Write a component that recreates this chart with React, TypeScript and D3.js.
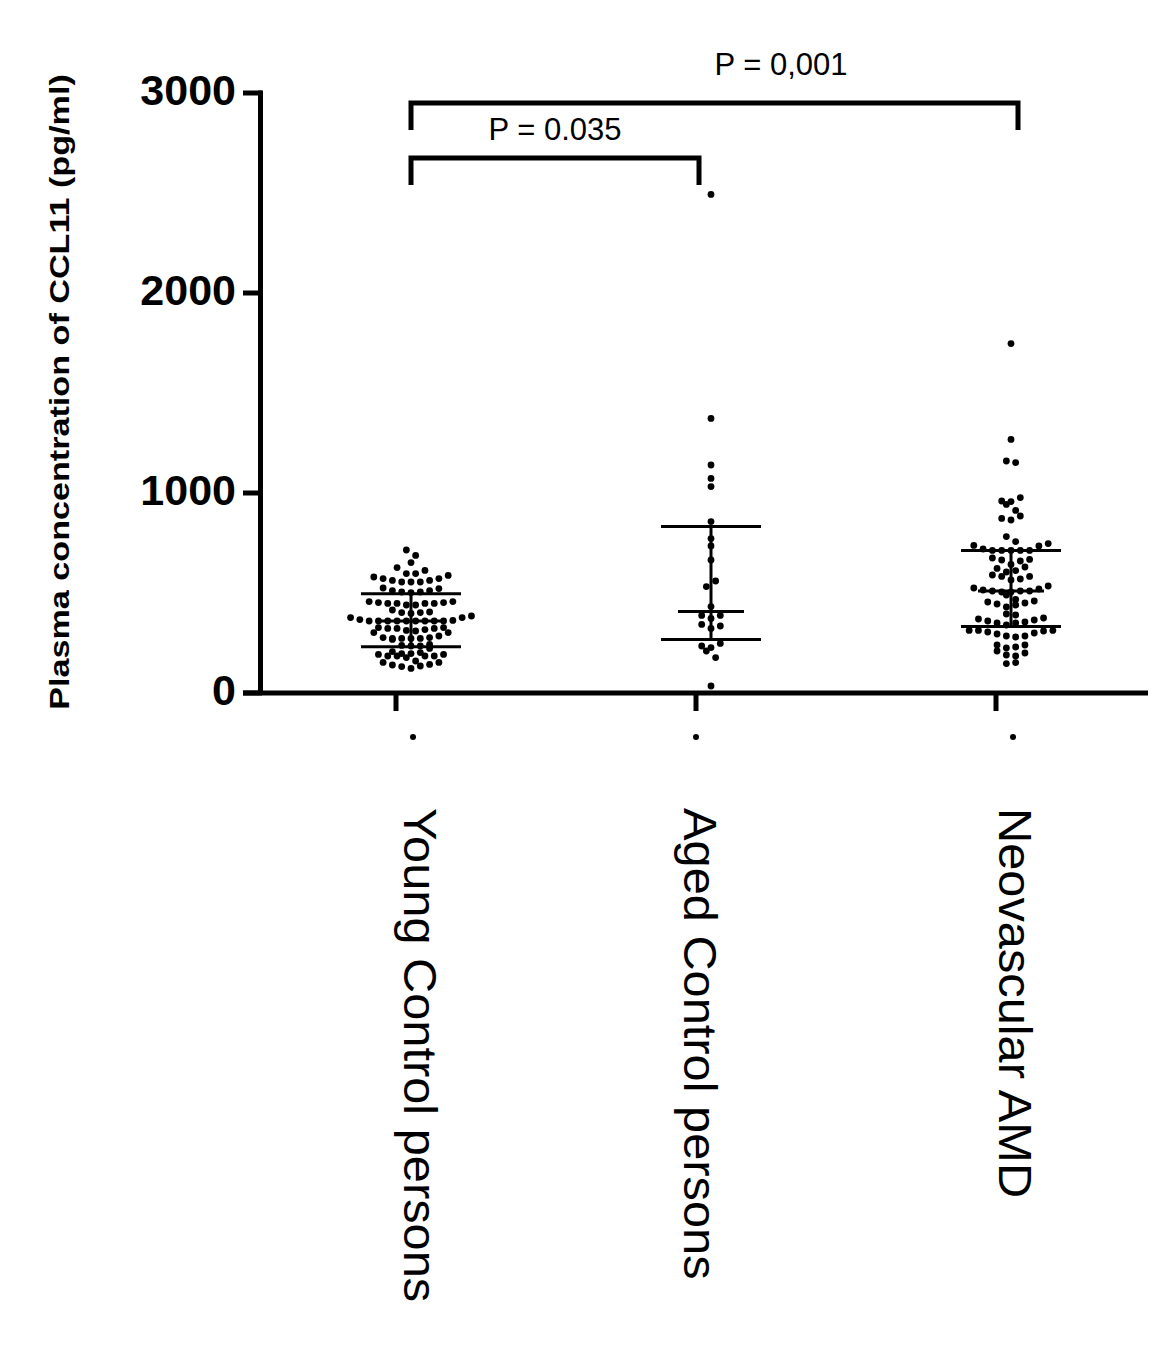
import React from "react";
import * as d3 from "d3";

// groups on the x axis
const categories = ["Young Control persons", "Aged Control persons", "Neovascular AMD"];

// individual plasma values (pg/ml)
const youngValues = [
  715, 688, 652, 627, 613,
  597, 588, 572, 563, 555, 555, 555, 563, 572, 580, 597,
  522, 512, 505, 502, 505, 512, 525,
  457, 452, 440, 448, 448, 448, 440, 448, 452, 457,
  402, 402, 398, 405, 415,
  377, 367, 360, 360, 360, 360, 360, 360, 360, 360, 360, 363, 377, 385,
  323, 313, 310, 327, 327, 323, 302, 302, 317, 323,
  273, 268, 277, 273, 277, 285, 273, 273,
  238, 235, 235, 243,
  223, 202, 193, 193, 185, 185, 177, 185, 185, 197, 197, 207,
  153, 143, 135, 123, 132, 140, 153, 160,
];

const agedValues = [
  2493, 1373, 1140, 1073, 1032, 857, 772, 735, 665, 560, 532, 432,
  388, 388, 373, 343, 335, 323, 248, 235, 227, 210, 177, 35,
];

const amdValues = [
  1747, 1268, 1160, 1152, 977, 960, 957, 943, 913, 885, 873, 865, 782,
  757, 738, 713, 713, 713, 713, 713, 720, 735, 747,
  668, 660, 665, 675,
  643, 623, 630, 605, 583, 612,
  583, 565, 590, 570,
  535, 520, 510, 505, 510, 505, 510, 515, 525,
  468, 440, 450, 430, 455, 460, 445, 490,
  390, 395,
  375, 360, 355, 340, 350, 350, 365, 370,
  313, 313, 300, 285, 280, 285, 295, 305, 310, 313,
  240, 225, 230, 240,
  200, 210, 190, 185,
  147, 152,
];

// median with interquartile range, as drawn
const medians = [360, 408, 510];
const upperQ = [496, 833, 713];
const lowerQ = [231, 268, 333];

const yTicks = [0, 1000, 2000, 3000];

// significance brackets: [from group, to group, label]
const brackets: [number, number, string][] = [
  [0, 1, "P = 0.035"],
  [0, 2, "P = 0,001"],
];

const W = 1176;
const H = 1348;
const font = "'Liberation Sans', Arial, sans-serif";

const y = d3.scaleLinear().domain([0, 3000]).range([693, 93]);
const x = d3.scalePoint<string>().domain(categories).range([396, 996]);
const shift = 15; // Prism draws the columns a bit right of the tick
const labelShift = [8, -12, 3];
const markShift = [17, 0, 17];

// prism-ish row layout: similar values share a row, spread out from the middle
function swarm(values: number[], cx: number) {
  const sorted = [...values].sort((a, b) => a - b);
  const rows: number[][] = [];
  let cur: number[] = [];
  sorted.forEach((v) => {
    if (cur.length && y(cur[0]) - y(v) > 7) {
      rows.push(cur);
      cur = [];
    }
    cur.push(v);
  });
  if (cur.length) rows.push(cur);

  const pts: { x: number; y: number }[] = [];
  rows.forEach((row, ri) => {
    const n = row.length;
    const slots = d3.range(n).map((i) => i - (n - 1) / 2);
    slots.sort((a, b) => Math.abs(a) - Math.abs(b) || (ri % 2 ? b - a : a - b));
    row.forEach((v, i) => pts.push({ x: cx + slots[i] * 9.3, y: y(v) }));
  });
  return pts;
}

const groups = [youngValues, agedValues, amdValues];

export default function App() {
  const axisW = 5;
  return (
    <svg
      width={W}
      height={H}
      style={{ position: "absolute", left: 0, top: 0, background: "#fff" }}
      fontFamily={font}
    >
      <rect width={W} height={H} fill="#fff" />

      {/* y axis */}
      <line x1={260.5} x2={260.5} y1={y(3000) - 2.5} y2={y(0)} stroke="#000" strokeWidth={axisW} />
      {yTicks.map((t) => (
        <g key={t}>
          <line x1={243} x2={262} y1={y(t)} y2={y(t)} stroke="#000" strokeWidth={axisW} />
          <text x={236} y={y(t) + 12} textAnchor="end" fontSize={43} fontWeight="bold">
            {t}
          </text>
        </g>
      ))}
      <text
        transform={`translate(69, 392) rotate(-90) scale(1.22, 1)`}
        textAnchor="middle"
        fontSize={28}
        fontWeight="bold"
      >
        Plasma concentration of CCL11 (pg/ml)
      </text>

      {/* x axis */}
      <line x1={243} x2={1148} y1={y(0)} y2={y(0)} stroke="#000" strokeWidth={axisW} />
      {categories.map((c, i) => (
        <g key={c}>
          <line x1={x(c)!} x2={x(c)!} y1={y(0)} y2={711} stroke="#000" strokeWidth={axisW} />
          <circle cx={x(c)! + markShift[i]} cy={737} r={3} fill="#000" />
          <text
            transform={`translate(${x(c)! + labelShift[i]}, 808) rotate(90) scale(1.06, 1)`}
            fontSize={46}
          >
            {c}
          </text>
        </g>
      ))}

      {/* dots */}
      {groups.map((vals, gi) =>
        swarm(vals, x(categories[gi])! + shift).map((p, i) => (
          <circle key={`${gi}-${i}`} cx={p.x} cy={p.y} r={3.4} fill="#000" />
        ))
      )}

      {/* median + IQR */}
      {categories.map((c, i) => {
        const cx = x(c)! + shift;
        return (
          <g key={c} stroke="#000" strokeWidth={3}>
            <line x1={cx} x2={cx} y1={y(upperQ[i])} y2={y(lowerQ[i])} />
            <line x1={cx - 50} x2={cx + 50} y1={y(upperQ[i])} y2={y(upperQ[i])} />
            <line x1={cx - 50} x2={cx + 50} y1={y(lowerQ[i])} y2={y(lowerQ[i])} />
            <line x1={cx - 33} x2={cx + 33} y1={y(medians[i])} y2={y(medians[i])} />
          </g>
        );
      })}

      {/* significance brackets */}
      {brackets.map(([a, b, label], i) => {
        const x1 = x(categories[a])! + shift;
        const x2 = x(categories[b])! + (b === 1 ? 3 : 22);
        const top = i === 0 ? 158 : 103;
        const bottom = i === 0 ? 185 : 130;
        return (
          <g key={label}>
            <path
              d={`M${x1},${bottom}V${top}H${x2}V${bottom}`}
              fill="none"
              stroke="#000"
              strokeWidth={5}
            />
            <text
              x={i === 0 ? 555 : 781}
              y={i === 0 ? top - 18 : top - 28}
              textAnchor="middle"
              fontSize={31}
            >
              {label}
            </text>
          </g>
        );
      })}
    </svg>
  );
}
